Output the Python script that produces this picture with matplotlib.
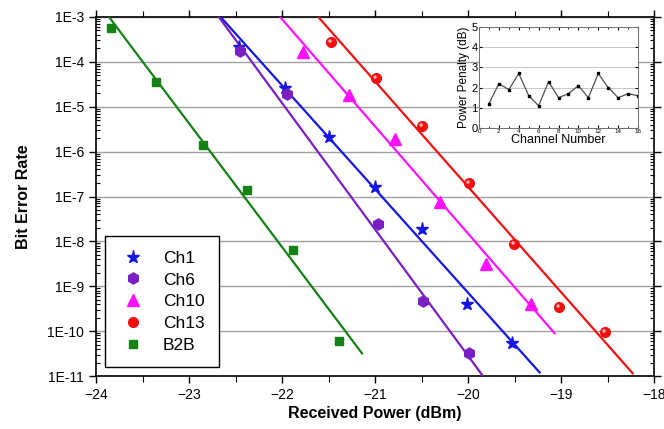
import numpy as np
import matplotlib
matplotlib.use('Agg')
import matplotlib.pyplot as plt
from matplotlib.markers import MarkerStyle
from matplotlib.transforms import Affine2D
from matplotlib.ticker import FixedLocator, LogLocator, NullFormatter

plt.rcParams['font.family'] = ['Liberation Sans', 'DejaVu Sans']

# measured points (received power dBm, BER)
ch1_x = [-22.46, -21.97, -21.49, -21.00, -20.50, -20.01, -19.53]
ch1_y = [2.1e-4, 2.6e-5, 2.1e-6, 1.65e-7, 1.9e-8, 4.1e-10, 5.4e-11]
ch6_x = [-22.45, -21.95, -20.97, -20.48, -19.99]
ch6_y = [1.75e-4, 1.9e-5, 2.4e-8, 4.6e-10, 3.3e-11]
ch10_x = [-21.77, -21.28, -20.78, -20.30, -19.81, -19.32]
ch10_y = [1.7e-4, 1.8e-5, 1.9e-6, 7.4e-8, 3.1e-9, 4.0e-10]
ch13_x = [-21.47, -20.99, -20.49, -19.99, -19.51, -19.02, -18.53]
ch13_y = [2.8e-4, 4.3e-5, 3.7e-6, 2.0e-7, 8.7e-9, 3.5e-10, 9.5e-11]
b2b_x = [-23.84, -23.35, -22.85, -22.38, -21.88, -21.39]
b2b_y = [5.7e-4, 3.5e-5, 1.4e-6, 1.4e-7, 6.4e-9, 6.0e-11]

# fitted lines (start/end)
ch1_fit_x = [-22.66, -19.23]
ch1_fit_y = [1e-3, 1.2e-11]
ch6_fit_x = [-22.68, -19.84]
ch6_fit_y = [1e-3, 1e-11]
ch10_fit_x = [-22.02, -19.07]
ch10_fit_y = [1e-3, 9e-11]
ch13_fit_x = [-21.61, -18.23]
ch13_fit_y = [1e-3, 1.15e-11]
b2b_fit_x = [-23.86, -21.14]
b2b_fit_y = [1e-3, 3.2e-11]

# inset: power penalty per channel
channels = list(range(1, 17))
penalty = [1.2, 2.2, 1.9, 2.7, 1.6, 1.1, 2.3, 1.5, 1.7, 2.1, 1.5, 2.7, 2.0, 1.5, 1.7, 1.6]

series = [
    ('Ch1', ch1_x, ch1_y, ch1_fit_x, ch1_fit_y, '#1515e6', '*', 9.5),
    ('Ch6', ch6_x, ch6_y, ch6_fit_x, ch6_fit_y, '#7a1fc4', 'h', 8),
    ('Ch10', ch10_x, ch10_y, ch10_fit_x, ch10_fit_y, '#ff10ff', '^', 8),
    ('Ch13', ch13_x, ch13_y, ch13_fit_x, ch13_fit_y, '#f01010', 'o', 7),
    ('B2B', b2b_x, b2b_y, b2b_fit_x, b2b_fit_y, '#148214', 's', 6),
]

fig = plt.figure(figsize=(6.64, 4.29), dpi=100)
ax = fig.add_axes([0.1446, 0.1235, 0.8404, 0.8369])

for name, x, y, fx, fy, c, m, ms in series:
    ax.plot(fx, fy, color=c, lw=1.6, zorder=3)
    ax.plot(x, y, ls='none', marker=m, color=c, ms=ms, mec=c, label=name, zorder=4)

# glossy spot on the red balls
shine = MarkerStyle('o', transform=Affine2D().scale(0.35).translate(-0.15, 0.15))
ax.plot(ch13_x, ch13_y, ls='none', marker=shine, ms=7, color='#ffb8b8', mec='none', zorder=5)

ax.set_yscale('log')
ax.set_xlim(-24, -18)
ax.set_ylim(1e-11, 1e-3)
ax.yaxis.set_major_locator(FixedLocator([10.0 ** k for k in range(-11, -2)]))
ax.set_yticklabels([f'1E{k}' for k in range(-11, -2)])
ax.yaxis.set_minor_locator(LogLocator(base=10, subs=np.arange(2, 10)))
ax.yaxis.set_minor_formatter(NullFormatter())
ax.set_xticks(range(-24, -17))
ax.set_xticks(np.arange(-23.5, -18, 1.0), minor=True)
ax.grid(axis='y', which='major', color='#a0a0a0', lw=1.0)
ax.tick_params(which='both', top=True, right=True, labelsize=10)
ax.tick_params(which='major', direction='out', length=5, width=1)
ax.tick_params(which='minor', direction='in', length=3, width=0.8)
ax.tick_params(axis='x', which='minor', direction='out', length=4)
for s in ax.spines.values():
    s.set_linewidth(1.2)

ax.set_xlabel('Received Power (dBm)', fontsize=11.5, fontweight='bold', labelpad=3)
ax.set_ylabel('Bit Error Rate', fontsize=11.5, fontweight='bold', labelpad=12)

leg = ax.legend(loc='lower left', bbox_to_anchor=(0.016, 0.025), borderaxespad=0,
                fontsize=12.5, frameon=True, fancybox=False, edgecolor='black',
                framealpha=1, handletextpad=0.9, borderpad=0.82, labelspacing=0.38,
                handlelength=1.62)
leg.get_frame().set_linewidth(1.0)

ins = fig.add_axes([0.7214, 0.7016, 0.2395, 0.2354])
ins.plot(channels, penalty, color='#505050', lw=0.9, marker='s', ms=2, mfc='black', mec='black')
ins.set_xlim(0, 16)
ins.set_ylim(0, 5)
ins.set_xticks(range(0, 17, 2))
ins.set_yticks(range(0, 6))
ins.set_xticks(range(1, 16, 2), minor=True)
ins.grid(axis='y', color='#c8c8c8', lw=0.7)
ins.tick_params(axis='x', labelsize=4.5, pad=1, length=2, direction='in')
ins.tick_params(axis='y', labelsize=8, pad=1, length=2, direction='in')
ins.tick_params(which='minor', length=1.5, direction='in')
ins.tick_params(top=True, right=True, which='both')
for s in ins.spines.values():
    s.set_color('#707070')
    s.set_linewidth(0.7)
ins.set_xlabel('Channel Number', fontsize=9, labelpad=0)
ins.set_ylabel('Power Penalty (dB)', fontsize=8.5, labelpad=1)

fig.savefig('out.png', dpi=100)
